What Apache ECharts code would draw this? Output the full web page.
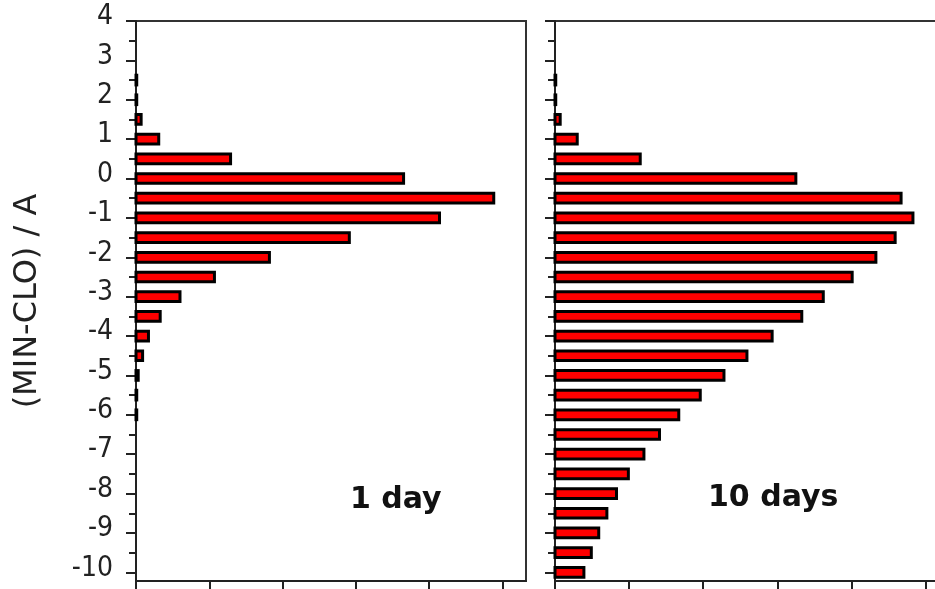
<!DOCTYPE html>
<html>
<head>
<meta charset="utf-8">
<script src="https://cdn.jsdelivr.net/npm/echarts@6/dist/echarts.min.js"></script>
<style>
  html, body { margin: 0; padding: 0; background: #fff; overflow: hidden; }
  #chart { width: 935px; height: 589px; }
</style>
</head>
<body>
<div id="chart"></div>
<script>
// ---- Data ----
const positions1 = [2.5, 2, 1.5, 1, 0.5, 0, -0.5, -1, -1.5, -2, -2.5, -3, -3.5, -4, -4.5, -5, -5.5, -6];
const values1day = [0.01, 0.01, 0.07, 0.31, 1.29, 3.65, 4.88, 4.14, 2.91, 1.82, 1.07, 0.60, 0.33, 0.17, 0.09, 0.03, 0.01, 0.01];

const positions10 = [2.5, 2, 1.5, 1, 0.5, 0, -0.5, -1, -1.5, -2, -2.5, -3, -3.5, -4, -4.5, -5, -5.5, -6, -6.5, -7, -7.5, -8, -8.5, -9, -9.5, -10];
const values10days = [0.01, 0.01, 0.07, 0.30, 1.15, 3.25, 4.67, 4.83, 4.59, 4.33, 4.01, 3.62, 3.33, 2.93, 2.59, 2.28, 1.96, 1.67, 1.41, 1.20, 0.99, 0.83, 0.70, 0.59, 0.49, 0.39];

const yMajorTicks = [4, 3, 2, 1, 0, -1, -2, -3, -4, -5, -6, -7, -8, -9, -10];
const yMinorTicks = [3.5, 2.5, 1.5, 0.5, -0.5, -1.5, -2.5, -3.5, -4.5, -5.5, -6.5, -7.5, -8.5, -9.5];
const xTicks = [0, 1, 2, 3, 4, 5];
const yAxisTitle = '(MIN-CLO) / A';
const panelLabels = ['1 day', '10 days'];

// ---- Chart ----
const chart = echarts.init(document.getElementById('chart'), null, { renderer: 'canvas' });

const BAR_PX = 9.7;
const AXIS_COLOR = '#222';
const Y_MIN = -10.22, Y_MAX = 4;
const tickFont = "'Liberation Sans Narrow', 'DejaVu Sans Condensed', 'Liberation Sans', sans-serif";

function renderBar(params, api) {
  const v = api.value(0);
  const y = api.value(1);
  const p0 = api.coord([0, y]);
  const p1 = api.coord([v, y]);
  return {
    type: 'rect',
    shape: { x: p0[0], y: p0[1] - BAR_PX / 2, width: p1[0] - p0[0], height: BAR_PX },
    style: { fill: '#ff0000', stroke: '#000', lineWidth: 3 }
  };
}

function makeYAxis(gridIndex, withLabels) {
  return [
    {
      type: 'value', gridIndex: gridIndex, min: Y_MIN, max: Y_MAX,
      position: 'left',
      name: withLabels ? yAxisTitle : '',
      nameLocation: 'middle', nameRotate: 90, nameGap: 92,
      nameTextStyle: { fontFamily: 'DejaVu Sans', fontSize: 32, color: '#222' },
      axisLine: { show: true, onZero: false, lineStyle: { color: AXIS_COLOR, width: 2 } },
      axisTick: { show: true, length: 10, customValues: yMajorTicks, lineStyle: { color: AXIS_COLOR, width: 2 } },
      axisLabel: {
        show: withLabels, customValues: yMajorTicks, margin: 23,
        fontFamily: tickFont, fontSize: 28, color: '#222',
        verticalAlign: 'bottom', lineHeight: 8
      },
      splitLine: { show: false }
    },
    {
      type: 'value', gridIndex: gridIndex, min: Y_MIN, max: Y_MAX,
      position: 'left',
      axisLine: { show: false },
      axisTick: { show: true, length: 7, customValues: yMinorTicks, lineStyle: { color: AXIS_COLOR, width: 2 } },
      axisLabel: { show: false },
      splitLine: { show: false }
    }
  ];
}

function makeXAxis(gridIndex, max) {
  return {
    type: 'value', gridIndex: gridIndex, min: 0, max: max,
    axisLine: { show: true, onZero: false, lineStyle: { color: AXIS_COLOR, width: 2 } },
    axisTick: { show: true, length: 10, customValues: xTicks, lineStyle: { color: AXIS_COLOR, width: 2 } },
    axisLabel: { show: false },
    splitLine: { show: false }
  };
}

const option = {
  animation: false,
  backgroundColor: '#fff',
  grid: [
    { left: 136, top: 21, width: 390, bottom: 8, outerBoundsMode: 'none', containLabel: false, show: true, borderColor: '#333', borderWidth: 2, backgroundColor: 'transparent' },
    { left: 555, top: 21, width: 415, bottom: 8, outerBoundsMode: 'none', containLabel: false, show: true, borderColor: '#333', borderWidth: 2, backgroundColor: 'transparent' }
  ],
  xAxis: [makeXAxis(0, 5.32), makeXAxis(1, 5.6)],
  yAxis: [].concat(makeYAxis(0, true), makeYAxis(1, false)),
  series: [
    {
      type: 'custom', xAxisIndex: 0, yAxisIndex: 0,
      renderItem: renderBar,
      encode: { x: 0, y: 1 },
      data: positions1.map((p, i) => [values1day[i], p]),
      z: 1
    },
    {
      type: 'custom', xAxisIndex: 1, yAxisIndex: 2,
      renderItem: renderBar,
      encode: { x: 0, y: 1 },
      data: positions10.map((p, i) => [values10days[i], p]),
      z: 1
    }
  ],
  graphic: [
    { type: 'text', x: 350, y: 500, style: { text: panelLabels[0], font: "bold 30px 'DejaVu Sans'", fill: '#111', verticalAlign: 'middle', align: 'left' } },
    { type: 'text', x: 708, y: 498, style: { text: panelLabels[1], font: "bold 30px 'DejaVu Sans'", fill: '#111', verticalAlign: 'middle', align: 'left' } }
  ]
};

chart.setOption(option);
</script>
</body>
</html>
